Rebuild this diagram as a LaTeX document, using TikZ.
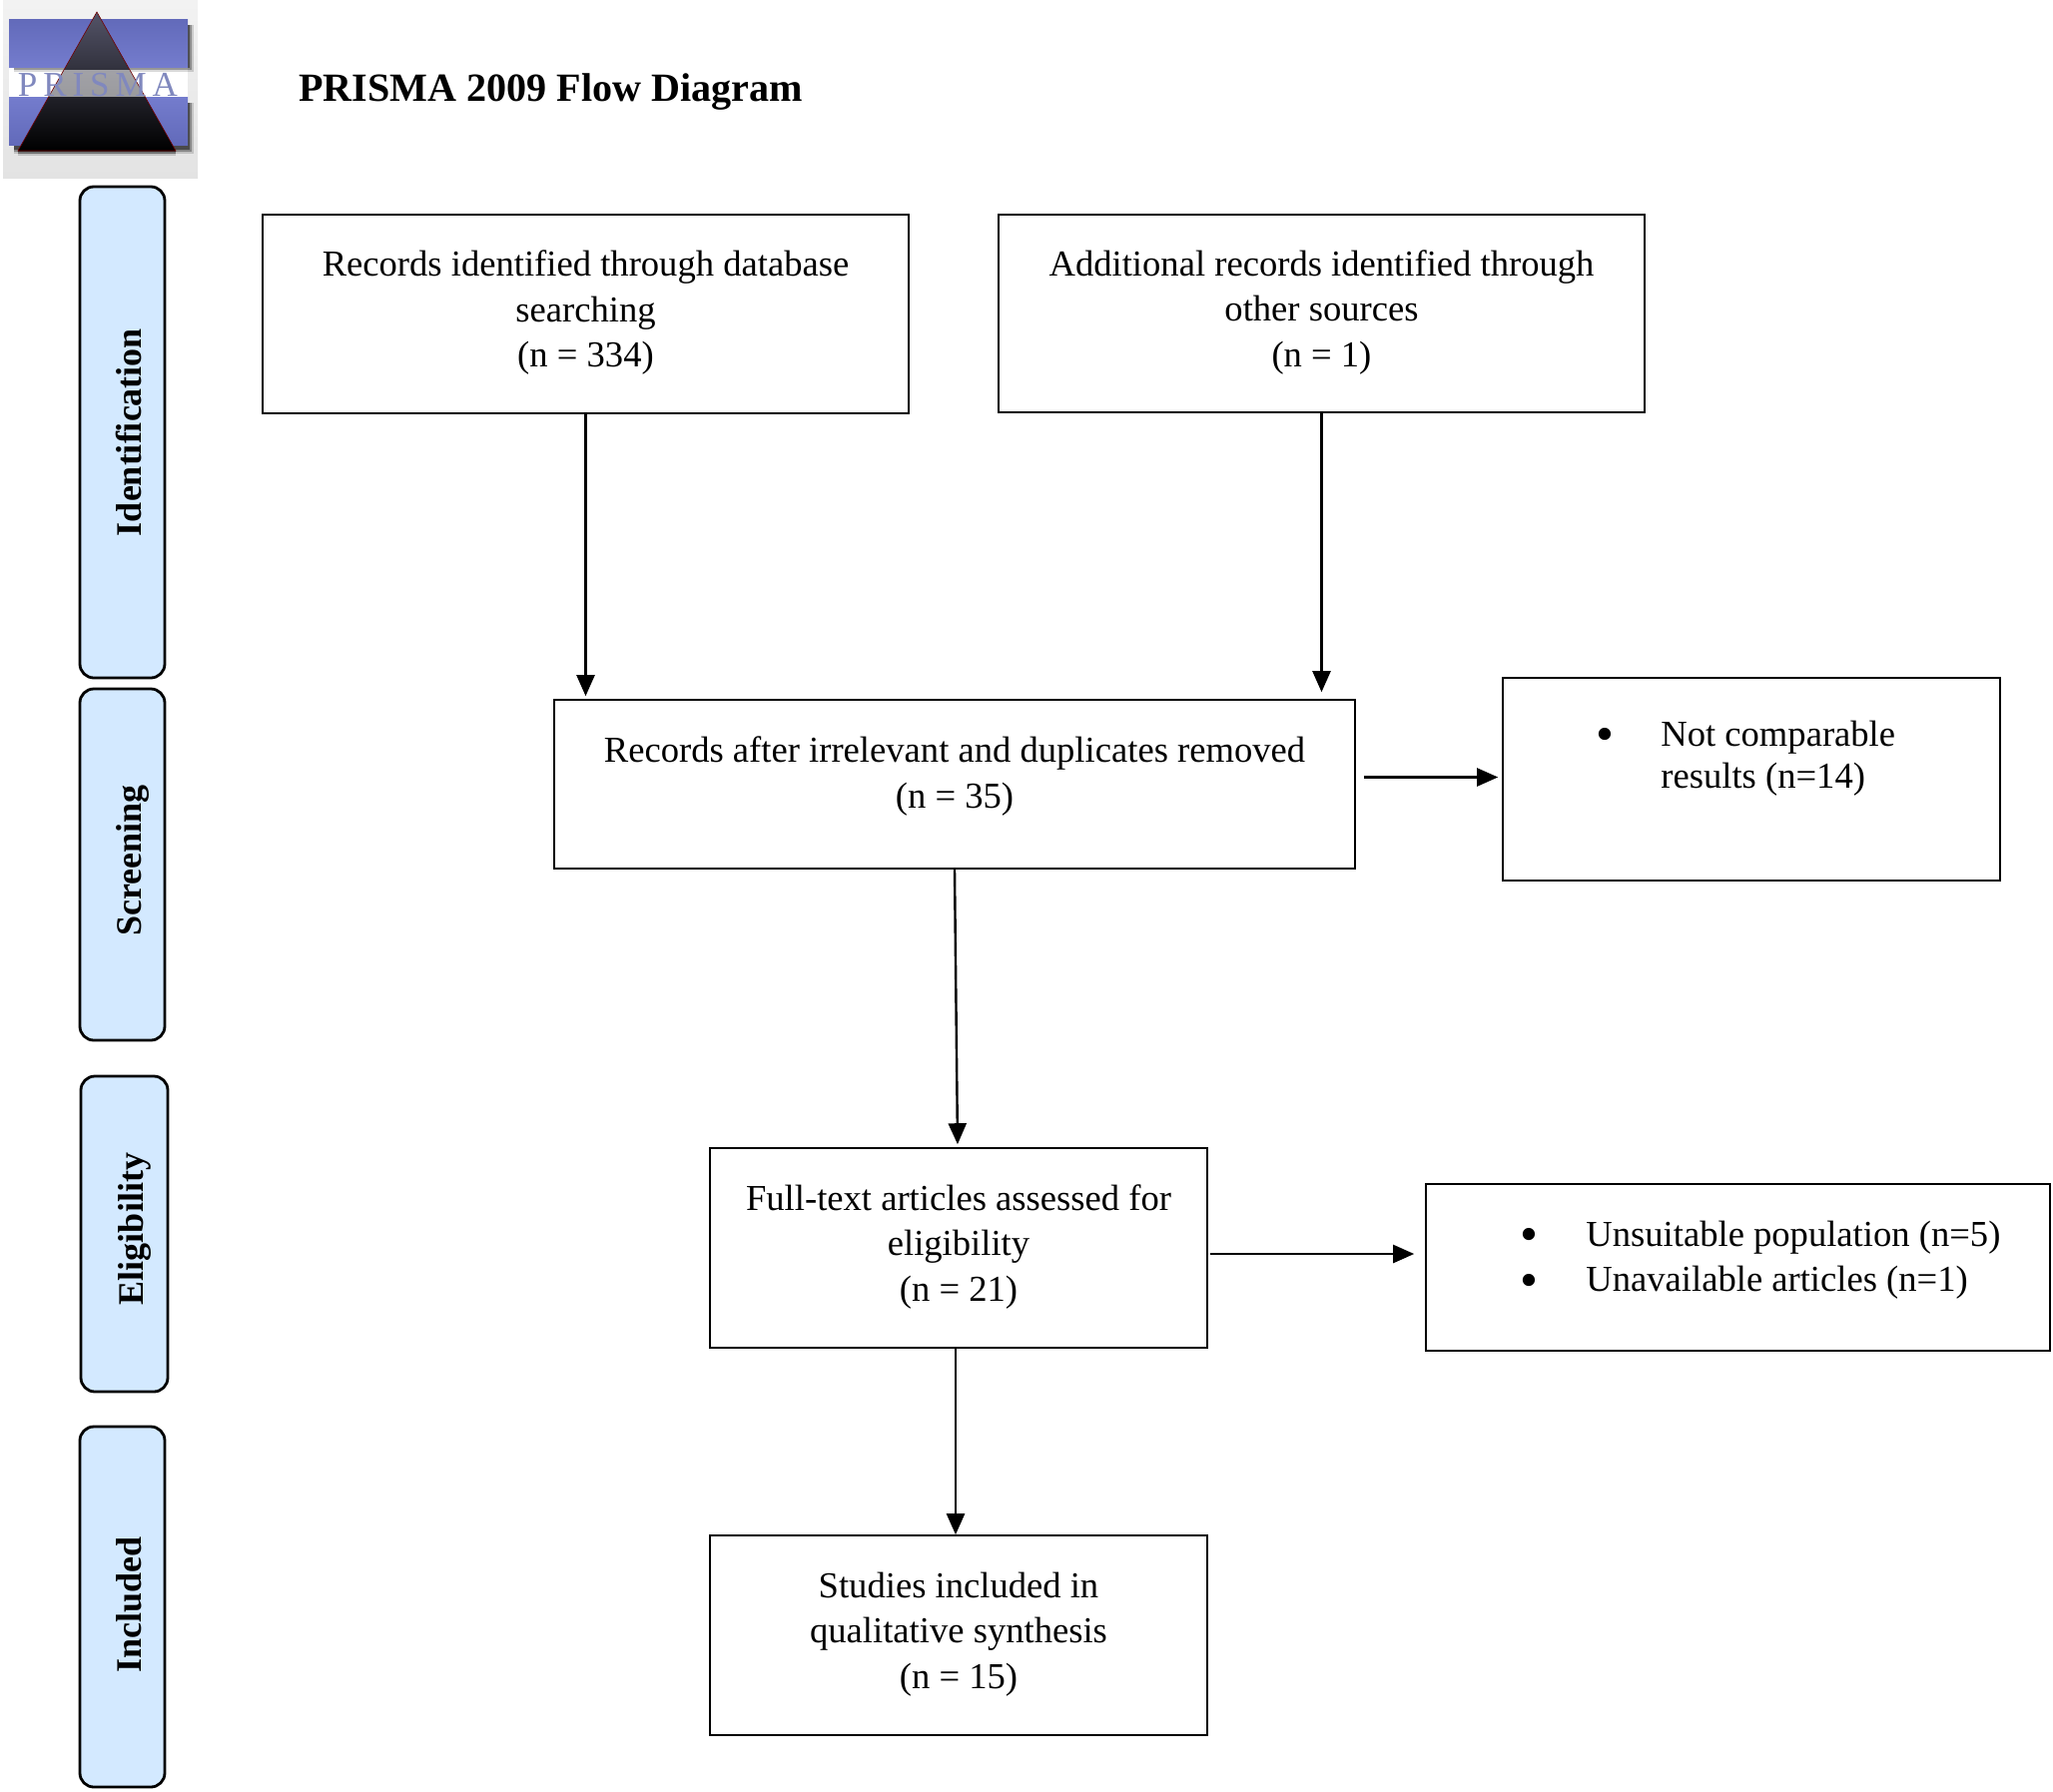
\documentclass[tikz,border=0pt]{standalone}
\usepackage{fontspec}
\usetikzlibrary{arrows.meta}
\setmainfont{Liberation Serif}
\newfontfamily\logofont[LetterSpace=17]{Liberation Serif}
\definecolor{tabblue}{RGB}{211,233,255}
\definecolor{logoband}{RGB}{98,106,186}
\definecolor{logobandlow}{RGB}{116,124,205}
\definecolor{logonavy}{RGB}{28,32,86}
\definecolor{logotop}{RGB}{84,84,104}
\definecolor{logoletter}{RGB}{128,136,190}
\newcommand{\lift}[1]{\rule[-#1]{0pt}{#1}}
\newcommand{\listdot}{\raisebox{-2.6pt}{\scalebox{1.4}{\textbullet}}}
\tikzset{
	box/.style={draw, line width=0.8pt, align=center, inner sep=0pt, font=\fontsize{18.3}{22.75}\selectfont},
	listtext/.style={inner sep=0pt, anchor=west, font=\fontsize{18.3}{22.75}\selectfont},
	tab/.style={draw, fill=tabblue, line width=1.4pt, rounded corners=7pt, rotate=90, inner sep=0pt, text height=22.5pt, text depth=4pt, font=\bfseries\fontsize{18}{22}\selectfont},
	flow/.style={-{Triangle[length=10.5pt, width=9pt]}, line width=1.2pt}
}

\begin{document}
\begin{tikzpicture}[x=0.5pt, y=-0.5pt]

		\useasboundingbox (0,0) rectangle (2056,1794);

		%Logo
		\shade [top color=gray!10, bottom color=gray!22] (3,0) rectangle (198,178);
		\fill [white] (9,67) rectangle (188,97);
		\foreach \o/\p in {0/0.45, 2/0.3, 4/0.15} {
			\fill [black, opacity=\p] (14,25) rectangle (190+\o,68+\o);
			\fill [black, opacity=\p] (14,103) rectangle (190+\o,150+\o);
			\fill [black, opacity=\p] (18,151) rectangle (176,152+\o);
		}
		\shade [top color=logoband, bottom color=logobandlow] (9,19) rectangle (188,67);
		\shade [top color=logobandlow, bottom color=logoband] (9,97) rectangle (188,145);
		\shade [top color=logotop, middle color=logonavy, bottom color=black] (97,12) -- (18,151) -- (176,151) -- cycle;
		\begin{scope}
			\clip (97,12) -- (18,151) -- (176,151) -- cycle;
			\fill [white, opacity=0.55] (0,70) rectangle (198,97);
		\end{scope}
		\draw [red!45!black, line width=0.3pt] (97,12) -- (18,151) -- (176,151) -- cycle;
		\node [logoletter, font=\logofont\fontsize{17.5}{20}\selectfont, inner sep=0pt] (logotext) at (98,85) {PRISMA};

		%Titel
		\node [font=\bfseries\fontsize{20.05}{24}\selectfont, inner sep=0pt] (title) at (551.5,92) {PRISMA 2009 Flow Diagram};

		%Phasen
		\node [tab, minimum width=246pt, minimum height=42.5pt] (identification) at (122.5,433) {Identification};
		\node [tab, minimum width=176pt, minimum height=42.5pt] (screening) at (122.5,866) {\hspace*{4pt}Screening};
		\node [tab, minimum width=158pt, minimum height=43.5pt] (eligibility) at (124.5,1236) {\hspace*{5pt}Eligibility};
		\node [tab, minimum width=180.5pt, minimum height=42.5pt] (included) at (122.5,1609.5) {\hspace*{2.5pt}Included};

		%Kaesten
		\node [box, minimum width=323.5pt, minimum height=99.5pt] (records) at (586.5,314.5) {Records identified through database\\searching\\(n = 334)\lift{5pt}};
		\node [box, minimum width=323.5pt, minimum height=99pt] (additional) at (1323.5,314) {Additional records identified through\\other sources\\(n = 1)\lift{5pt}};
		\node [box, minimum width=401pt, minimum height=84.5pt] (after) at (956,785.5) {Records after irrelevant and duplicates removed\\(n = 35)\lift{12pt}};
		\node [box, minimum width=249pt, minimum height=101.5pt] (notcomp) at (1754,780.5) {};
		\node [box, minimum width=249pt, minimum height=100pt] (full) at (960,1250) {Full-text articles assessed for\\eligibility\\(n = 21)\lift{5pt}};
		\node [box, minimum width=312.5pt, minimum height=83.5pt] (unsuit) at (1740.5,1269.5) {};
		\node [box, minimum width=249pt, minimum height=100pt] (studies) at (960,1638) {Studies included in\\qualitative synthesis\\(n = 15)\lift{5pt}};

		%Listen
		\node [listtext] (notlist) at (1598,759) {\begin{tabular}{@{}p{32.5pt}@{}l@{}}\listdot & Not comparable\\[-1.7pt] & results (n=14)\end{tabular}};
		\node [listtext] (unsuitlist) at (1522,1262) {\begin{tabular}{@{}p{33pt}@{}l@{}}\listdot & Unsuitable population (n=5)\\ \listdot & Unavailable articles (n=1)\end{tabular}};

		%Pfeile
		\draw [flow, shorten >=1.5pt] (records.south) -- (records.south |- after.north);
		\draw [flow, shorten >=3.5pt] (additional.south) -- (additional.south |- after.north);
		\draw [flow, shorten >=1.5pt] (after.south) -- ([xshift=-0.5pt]full.north);
		\draw [flow, shorten <=4pt, shorten >=2pt] ([yshift=1pt]after.east |- notcomp.west) -- ([yshift=1pt]notcomp.west);
		\draw [flow, shorten <=1pt, shorten >=5.5pt] ([yshift=-3pt]full.east) -- ([yshift=-3pt]full.east -| unsuit.west);
		\draw [flow] ([xshift=-1.5pt]full.south) -- ([xshift=-1.5pt]studies.north);

\end{tikzpicture}
\end{document}
